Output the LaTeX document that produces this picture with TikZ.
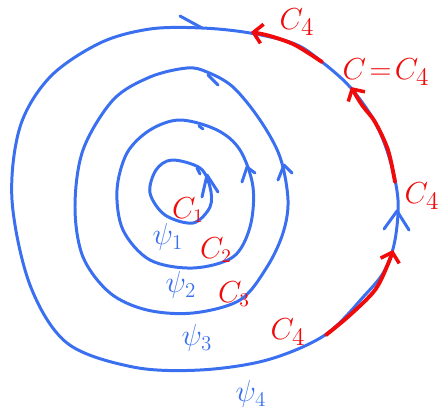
\documentclass[tikz,border=0pt]{standalone}
\usetikzlibrary{arrows.meta}
\definecolor{pblue}{RGB}{58,112,240}
\definecolor{pred}{RGB}{240,10,10}
\begin{document}
\begin{tikzpicture}[x=0.02cm,y=-0.02cm,
  bl/.style={pblue,line width=1.7pt,line cap=round,line join=round},
  rd/.style={pred,line width=2.2pt,line cap=round,line join=round},
  rdarrow/.style={rd,-{Straight Barb[length=5pt,width=11pt,line width=2pt]}},
  rlab/.style={text=pred,font=\fontsize{19}{21}\selectfont,inner sep=0pt},
  rlabs/.style={text=pred,font=\fontsize{16}{18}\selectfont,inner sep=0pt},
  blab/.style={text=pblue,font=\fontsize{17}{19}\selectfont,inner sep=0pt}]
\useasboundingbox (0,0) rectangle (439,409);
% psi_4 outer
\draw[bl] plot[smooth cycle,tension=0.55] coordinates {(202,28) (250,33) (295,44) (322,62) (350,87) (375,122) (390,160) (398,200) (395,240) (385,270) (365,295) (325,335) (267,360) (200,370) (133,367) (67,343) (30,285) (12,200) (20,127) (50,77) (100,43) (150,29)};
\draw[bl] (180,16) -- (202,28);
\draw[bl] (384,229) -- (397,211) -- (409,230);
% psi_3
\draw[bl] plot[smooth cycle,tension=0.55] coordinates {(187,68) (207,72) (233,87) (260,120) (280,157) (288,200) (283,233) (267,267) (240,300) (193,313) (147,310) (110,293) (83,257) (75,207) (83,150) (113,100) (150,77)};
\draw[bl] (278,180) -- (284,165) -- (292,173);
\draw[bl] (208,75) -- (218,85);
% psi_2
\draw[bl] plot[smooth cycle,tension=0.55] coordinates {(180,120) (217,130) (240,150) (253,187) (250,227) (233,257) (193,268) (150,260) (123,230) (117,190) (127,153) (150,130)};
\draw[bl] (242,182) -- (247,167) -- (255,173);
\draw[bl] (199,126) -- (203,129);
% psi_1
\draw[bl] plot[smooth cycle,tension=0.55] coordinates {(172,160) (200,168) (210,187) (210,207) (193,223) (165,215) (150,193) (156,170)};
\draw[bl] (202,197) -- (207,175) -- (218,192);
\draw[bl] (197,168) -- (200,174);
% red segments
\draw[rdarrow] plot[smooth,tension=0.55] coordinates {(322,62) (295,45) (270,36) (251,32)};
\draw[rdarrow] plot[smooth,tension=0.55] coordinates {(395,182) (388,150) (375,122) (362,105) (351,87)};
\draw[rdarrow] plot[smooth,tension=0.55] coordinates {(326,335) (350,315) (375,290) (388,264) (393,250)};
% labels
\node[rlab] (c4a) at (297,22) {$C_4$};
\node[rlab] (cc4) at (386,72) {$C\!=\!C_4$};
\node[rlab] (c4b) at (422,196) {$C_4$};
\node[rlab] (c4c) at (288,332) {$C_4$};
\node[rlabs] (c1) at (188,210) {$C_1$};
\node[rlabs] (c2) at (216,250) {$C_2$};
\node[rlabs] (c3) at (234,294) {$C_3$};
\node[blab] (p1) at (168,237) {$\psi_1$};
\node[blab] (p2) at (181,285) {$\psi_2$};
\node[blab] (p3) at (197,338) {$\psi_3$};
\node[blab] (p4) at (251,394) {$\psi_4$};
\end{tikzpicture}
\end{document}
